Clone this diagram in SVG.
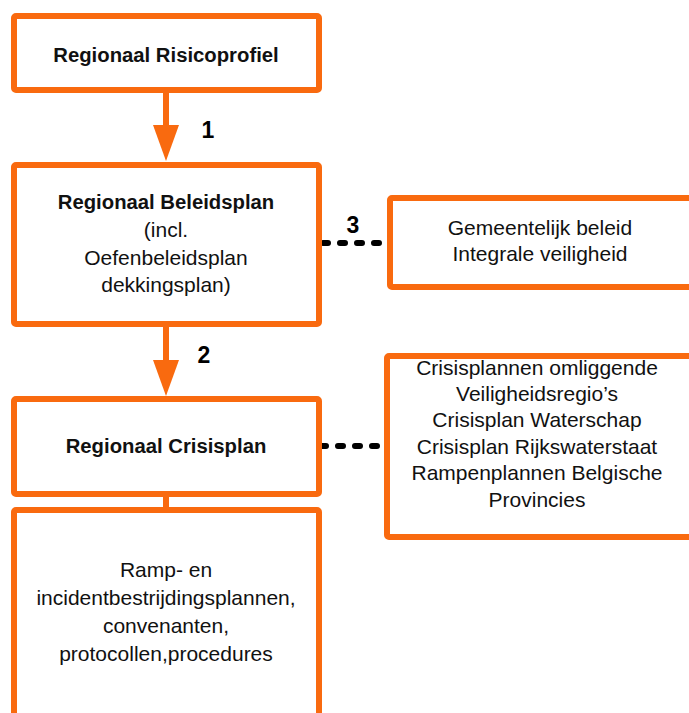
<svg xmlns="http://www.w3.org/2000/svg" width="689" height="713" viewBox="0 0 689 713">
<style>
.box{fill:#fff;stroke:#F96A0F;stroke-width:6;}
.t{font-family:"Liberation Sans",Arial,sans-serif;font-size:21px;fill:#111;text-anchor:middle;}
.b{font-family:"Liberation Sans",Arial,sans-serif;font-size:20.3px;font-weight:bold;fill:#111;text-anchor:middle;}
.n{font-family:"Liberation Sans",Arial,sans-serif;font-size:23px;font-weight:bold;fill:#000;text-anchor:middle;}
.shaft{stroke:#F96A0F;stroke-width:6;fill:none;}
.head{fill:#F96A0F;}
.dot{stroke:#000;stroke-width:6;stroke-linecap:round;stroke-dasharray:5 12;fill:none;}
</style>
<rect width="689" height="713" fill="#fff"/>
<g id="connectors">
<line class="shaft" x1="166" y1="90" x2="166" y2="128"/>
<polygon class="head" points="153,125 179,125 166,161"/>
<text class="n" x="208" y="138">1</text>
<line class="shaft" x1="166" y1="324" x2="166" y2="363"/>
<polygon class="head" points="153,360 179,360 166,396"/>
<text class="n" x="204" y="363">2</text>
<line class="shaft" x1="166" y1="494" x2="166" y2="510"/>
<line class="dot" x1="323" y1="243" x2="383" y2="243"/>
<text class="n" x="353" y="233">3</text>
<line class="dot" x1="321" y1="446" x2="383" y2="446"/>
</g>
<g id="risicoprofiel">
<rect class="box" x="14" y="16" width="305" height="74" rx="2"/>
<text class="b" x="166" y="62">Regionaal Risicoprofiel</text>
</g>
<g id="beleidsplan">
<rect class="box" x="14" y="165" width="305" height="159" rx="2"/>
<text class="b" x="166" y="209">Regionaal Beleidsplan</text>
<text class="t" x="166" y="237">(incl.</text>
<text class="t" x="166" y="265">Oefenbeleidsplan</text>
<text class="t" x="166" y="292">dekkingsplan)</text>
</g>
<g id="gemeentelijk">
<rect class="box" x="390" y="198" width="320" height="89" rx="2"/>
<text class="t" x="540" y="235">Gemeentelijk beleid</text>
<text class="t" x="540" y="261">Integrale veiligheid</text>
</g>
<g id="crisisplan">
<rect class="box" x="14" y="399" width="305" height="95" rx="2"/>
<text class="b" x="166" y="453">Regionaal Crisisplan</text>
</g>
<g id="omliggend">
<rect class="box" x="387" y="356" width="320" height="181" rx="2"/>
<text class="t" x="537" y="375">Crisisplannen omliggende</text>
<text class="t" x="537" y="401">Veiligheidsregio’s</text>
<text class="t" x="537" y="427">Crisisplan Waterschap</text>
<text class="t" x="537" y="454">Crisisplan Rijkswaterstaat</text>
<text class="t" x="537" y="480">Rampenplannen Belgische</text>
<text class="t" x="537" y="507">Provincies</text>
</g>
<g id="rampplannen">
<rect class="box" x="14" y="510" width="305" height="220" rx="2"/>
<text class="t" x="166" y="577">Ramp- en</text>
<text class="t" x="166" y="605">incidentbestrijdingsplannen,</text>
<text class="t" x="166" y="633">convenanten,</text>
<text class="t" x="166" y="661">protocollen,procedures</text>
</g>
</svg>
